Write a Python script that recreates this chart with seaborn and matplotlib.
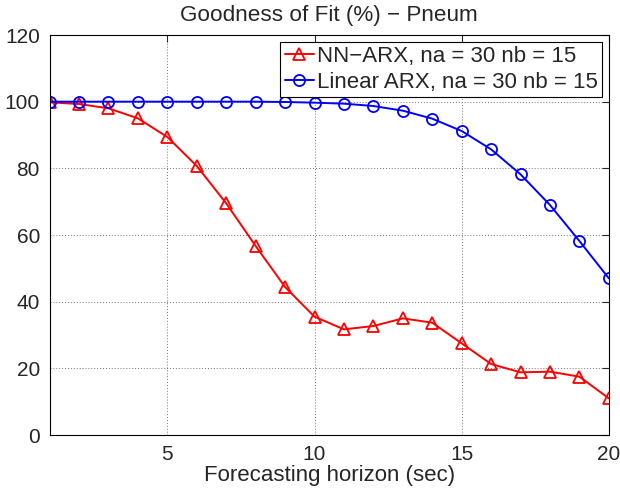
"""Goodness of fit vs forecasting horizon."""
import matplotlib
matplotlib.use("Agg")
import matplotlib.pyplot as plt
import pandas as pd
import seaborn as sns

horizon = list(range(1, 21))
nn_arx = [99.8, 99.3, 98.0, 95.0, 89.4, 80.7, 69.5, 56.7, 44.4, 35.5,
          31.7, 32.7, 35.0, 33.7, 27.5, 21.3, 18.8, 19.0, 17.5, 11.0]
linear_arx = [100.0, 100.0, 100.0, 100.0, 100.0, 100.0, 100.0, 100.0, 99.9, 99.7,
              99.4, 98.7, 97.3, 94.9, 91.2, 85.7, 78.2, 69.0, 58.2, 47.0]
labels = ["NN\u2212ARX, na = 30 nb = 15", "Linear ARX, na = 30 nb = 15"]

df = pd.DataFrame({"horizon": horizon, "nn": nn_arx, "lin": linear_arx})

sns.set_style("white")
plt.rcParams["font.family"] = ["Liberation Sans", "DejaVu Sans"]

fig = plt.figure(figsize=(6.2, 4.93), dpi=100)
ax = fig.add_axes([0.08, 0.1176, 0.902, 0.8114])

sns.lineplot(data=df, x="horizon", y="nn", ax=ax, color="red", marker="^",
             markersize=9, markerfacecolor="none", markeredgecolor="red",
             markeredgewidth=1.3, linewidth=1.4, label=labels[0])
sns.lineplot(data=df, x="horizon", y="lin", ax=ax, color="blue", marker="o",
             markersize=8, markerfacecolor="none", markeredgecolor="blue",
             markeredgewidth=1.3, linewidth=1.4, label=labels[1])

ax.set_xlim(1, 20)
ax.set_ylim(0, 120)
ax.set_xticks([5, 10, 15, 20])
ax.set_yticks(range(0, 121, 20))
ax.grid(True, linestyle=(0, (1, 2)), color="0.45", linewidth=0.7)
ax.tick_params(direction="in", top=True, right=True, labelsize=15, length=5)
ax.tick_params(axis="x", pad=7)
ax.tick_params(axis="y", pad=7)
for s in ax.spines.values():
    s.set_color("black")
    s.set_linewidth(0.8)

ax.set_title("Goodness of Fit (%) \u2212 Pneum", fontsize=16.2, pad=10)
ax.set_xlabel("Forecasting horizon (sec)", fontsize=16, labelpad=1)
ax.set_ylabel("")

leg = ax.legend(loc="upper right", fontsize=16, fancybox=False, framealpha=1,
                edgecolor="black", handlelength=1.3, handletextpad=0.15,
                borderpad=0.2, labelspacing=0.2, borderaxespad=0.3)
leg.get_frame().set_linewidth(0.8)

fig.savefig("out.png", dpi=100)
